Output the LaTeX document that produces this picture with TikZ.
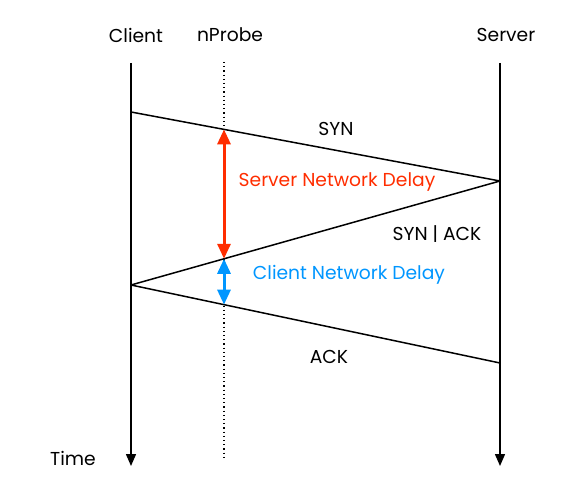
\documentclass[tikz,border=0pt]{standalone}
\usepackage{fontspec}
\setmainfont{Poppins}
\usetikzlibrary{calc,arrows.meta}
\definecolor{delayred}{RGB}{255,45,0}
\definecolor{delayblue}{RGB}{0,150,255}
\tikzset{delay/.style={line width=3pt,{Triangle[length=15pt,width=13pt]}-{Triangle[length=15pt,width=13pt]}}}
\begin{document}
\begin{tikzpicture}[x=1pt,y=-1pt,line join=round,font=\fontsize{18.7}{22}\selectfont,>={Triangle[length=12pt,width=10pt]}]
	\useasboundingbox (0,0) rectangle (578,502);
	% lifelines
	\node (client) at (136,35) {Client};
	\node (probe) at (230,35) {nProbe};
	\node (server) at (506,35) {Server};
	\node (time) at (73,458) {Time};
	\coordinate (ctop) at (131,63);
	\coordinate (cbot) at (131,466);
	\coordinate (ptop) at (224,62);
	\coordinate (pbot) at (224,460);
	\coordinate (stop) at (500,63);
	\coordinate (sbot) at (500,466);
	\draw[line width=1.5pt,->] (ctop)--(cbot);
	\draw[line width=1.5pt,->] (stop)--(sbot);
	\draw[line width=1.2pt,dash pattern=on 1.2pt off 3pt] (ptop)--(pbot);
	% handshake
	\coordinate (c1) at (131,112);
	\coordinate (s1) at (500,181);
	\coordinate (c2) at (131,285);
	\coordinate (s2) at (500,363);
	\draw[line width=1.5pt] (c1)--(s1)--(c2)--(s2);
	\coordinate (p1) at ($(c1)!93/369!(s1)$);
	\coordinate (p2) at ($(c2)!93/369!(s1)$);
	\coordinate (p3) at ($(c2)!93/369!(s2)$);
	\node (syn) at (336,129) {SYN};
	\node (synack) at (437,234) {SYN | ACK};
	\node (ack) at (329,357) {ACK};
	% delays
	\draw[delay,delayred] (p1)--(p2);
	\draw[delay,delayblue] (p2)--(p3);
	\node[text=delayred] (snd) at (337,182) {Server Network Delay};
	\node[text=delayblue] (cnd) at (349,275) {Client Network Delay};
\end{tikzpicture}
\end{document}
